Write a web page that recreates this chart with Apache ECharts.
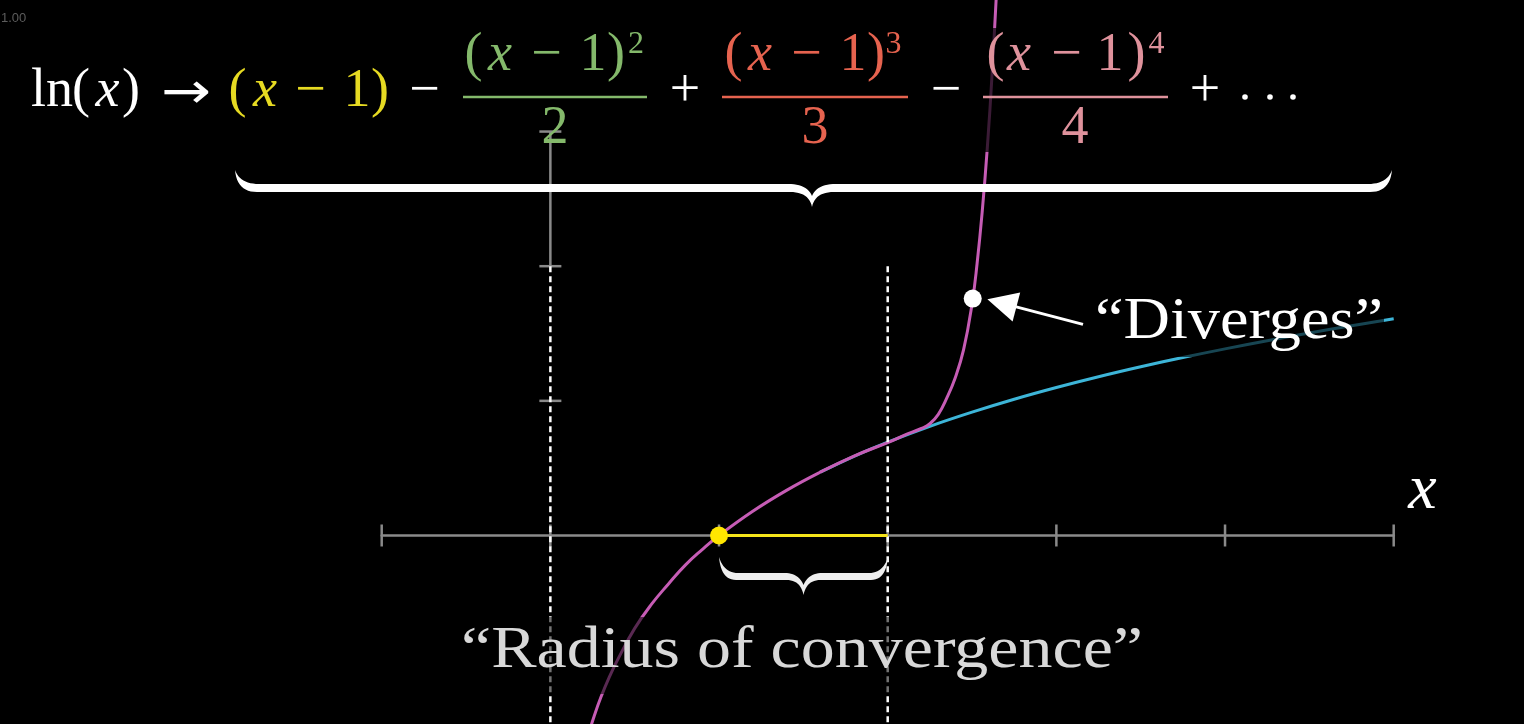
<!DOCTYPE html>
<html><head><meta charset="utf-8">
<script src="https://cdn.jsdelivr.net/npm/echarts@6/dist/echarts.min.js"></script>
<style>html,body{margin:0;padding:0;background:#000;}#c{width:1524px;height:724px;}</style>
</head><body><div id="c"></div>
<script>
// ---- data ----
const xTicks = [-1, 0, 1, 2, 3, 4, 5];
const yTicks = [1, 2, 3];
const yAxisSpan = [2, 3];
const lnX = [1.6, 1.8, 2.0, 2.25, 2.5, 2.75, 3.0, 3.25, 3.5, 3.75, 4.0, 4.25, 4.5, 4.75, 5.0];
const lnY = [0.47, 0.588, 0.693, 0.811, 0.916, 1.012, 1.099, 1.179, 1.253, 1.322, 1.386, 1.447, 1.504, 1.558, 1.609];
const polyX = [0.22, 0.26, 0.30, 0.35, 0.40, 0.50, 0.60, 0.70, 0.80, 0.90, 1.00, 1.20, 1.40, 1.60, 1.80, 2.00, 2.10, 2.20, 2.25, 2.30, 2.35, 2.40, 2.45, 2.50, 2.53, 2.56, 2.59, 2.62, 2.65];
const polyY = [-1.50, -1.34, -1.20, -1.05, -0.92, -0.69, -0.51, -0.36, -0.22, -0.105, 0, 0.18, 0.335, 0.47, 0.59, 0.69, 0.745, 0.795, 0.83, 0.90, 1.02, 1.17, 1.38, 1.72, 2.02, 2.40, 2.87, 3.45, 4.15];
const guideX = [0, 2];
const guideY = [2, -1.5];
const centerPt = [1, 0];
const radiusEnd = [2, 0];
const divergePt = [2.504, 1.76];
const arrowFrom = [3.158, 1.568];
const arrowTo = [2.677, 1.726];

const zip = (a, b) => a.map((v, i) => [v, b[i]]);
const GRAY = '#8a8a8a';

// ---- text helpers ----
const MID = 0.3375;
const SERIF = '"Liberation Serif"';
const mctx = document.createElement('canvas').getContext('2d');
function txt(s, cx, base, size, color, o) {
  o = o || {};
  const family = o.family || SERIF;
  const font = (o.italic ? 'italic ' : '') + size + 'px ' + family;
  let sx = 1, align = 'center';
  if (o.width) {
    mctx.font = font;
    sx = o.width / mctx.measureText(s).width;
    align = 'left';
  }
  return {
    type: 'text', z: 20, silent: true, x: cx, y: base - MID * size, scaleX: sx,
    style: { text: s, font: font, fill: color, align: align, textAlign: align,
             verticalAlign: 'middle', textVerticalAlign: 'middle' }
  };
}
function bar(x1, x2, y, color) {
  return { type: 'rect', z: 20, silent: true, shape: { x: x1, y: y - 1.3, width: x2 - x1, height: 2.6 }, style: { fill: color } };
}
function box(x, y, w, h, op) {
  return { type: 'rect', z: 15, silent: true, shape: { x: x, y: y, width: w, height: h }, style: { fill: 'rgba(0,0,0,' + op + ')' } };
}
// brace outline as polygon (quadratic segments sampled)
function bracePoints(x1, x2, y0, yb, t, yt, xc, c) {
  const yB = yb + t;
  const pts = [[x1, y0]];
  let cur = [x1, y0];
  const Q = (cx, cy, ex, ey) => {
    for (let i = 1; i <= 12; i++) {
      const s = i / 12, u = 1 - s;
      pts.push([u * u * cur[0] + 2 * u * s * cx + s * s * ex, u * u * cur[1] + 2 * u * s * cy + s * s * ey]);
    }
    cur = [ex, ey];
  };
  const L = (ex, ey) => { pts.push([ex, ey]); cur = [ex, ey]; };
  Q(x1 + 2, yB, x1 + c, yB); L(xc - c, yB); Q(xc - 3, yB, xc, yt);
  Q(xc + 3, yB, xc + c, yB); L(x2 - c, yB); Q(x2 - 2, yB, x2, y0);
  Q(x2 - 5, yb, x2 - c - 2, yb); L(xc + c + 2, yb); Q(xc + 5, yb, xc, yt - t - 3);
  Q(xc - 5, yb, xc - c - 2, yb); L(x1 + c + 2, yb); Q(x1 + 5, yb, x1, y0);
  return pts;
}

const W = '#ffffff', YEL = '#e6da22', GRN = '#84b96b', RED = '#e6634f', PNK = '#df929c';
const S = 54, B = 110, NB = 74, DB = 147, SUP = 32, SB = 55, AX = 97;
const g = [];
g.push({ type: 'text', z: 20, silent: true, x: 1, y: 18, style: { text: '1.00', font: '13px "Liberation Sans"', fill: '#5c5c5c', align: 'left', textAlign: 'left', verticalAlign: 'middle', textVerticalAlign: 'middle' } });
// ln(x) ->
g.push(txt('ln', 52, B, S, W), txt('(', 81, B, S, W), txt('x', 107.5, B, S, W, { italic: true }), txt(')', 131, B, S, W),
  txt('\u2192', 161, B + 2, 50, W, { width: 50, family: '"DejaVu Sans"' }));
function term(base, col, cx) {
  return [txt('(', cx[0], base, S, col), txt('x', cx[1], base, S, col, { italic: true }), txt('\u2212', cx[2], base, S, col), txt('1', cx[3], base, S, col), txt(')', cx[4], base, S, col)];
}
g.push(...term(B, YEL, [237.5, 265, 310.5, 357, 380]));
g.push(txt('\u2212', 424.5, B, S, W));
g.push(...term(NB, GRN, [473.5, 500, 546.5, 593, 616]), txt('2', 636, SB, SUP, GRN), bar(463, 647, AX, GRN), txt('2', 555, DB, S, GRN));
g.push(txt('+', 685, B, S, W));
g.push(...term(NB, RED, [733.5, 760, 806.5, 853, 876]), txt('3', 893.5, SB, SUP, RED), bar(722, 908, AX, RED), txt('3', 815, DB, S, RED));
g.push(txt('\u2212', 946, B, S, W));
g.push(box(982, 28, 190, 124, 0.7));
g.push(...term(NB, PNK, [995.5, 1019, 1066.5, 1110, 1136.5]), txt('4', 1156.5, SB, SUP, PNK), bar(983, 1168, AX, PNK), txt('4', 1075, DB, S, PNK));
g.push(txt('+', 1205, B, S, W));
[1245, 1270, 1293].forEach(cx => g.push({ type: 'circle', z: 20, silent: true, shape: { cx: cx, cy: AX, r: 2.8 }, style: { fill: W } }));
// braces
g.push({ type: 'polygon', z: 20, silent: true, shape: { points: bracePoints(235, 1392, 170, 184, 8, 207, 812, 22) }, style: { fill: W } });
g.push({ type: 'polygon', z: 20, silent: true, shape: { points: bracePoints(719, 888, 557, 573, 7, 595, 803.5, 17) }, style: { fill: '#eeeeee' } });
// labels
g.push(txt('x', 1422.5, 513, 64, W, { italic: true }));
g.push(box(1088, 294, 296, 63, 0.62));
g.push(txt('\u201CDiverges\u201D', 1095, 342, 60, W, { width: 288 }));
g.push(box(455, 617, 695, 77, 0.55));
g.push(txt('\u201CRadius of convergence\u201D', 461, 671, 60, '#d8d8d8', { width: 682 }));

const chart = echarts.init(document.getElementById('c'), null, { renderer: 'canvas' });
chart.setOption({
  backgroundColor: '#000',
  animation: false,
  grid: { left: 381.7, width: 1012, top: 0, height: 725.4 },
  xAxis: { type: 'value', min: -1, max: 5,
    axisLine: { show: true, onZero: true, lineStyle: { color: GRAY, width: 2.5 } },
    axisTick: { show: false }, axisLabel: { show: false }, splitLine: { show: false } },
  yAxis: { type: 'value', min: -1.4, max: 3.977,
    axisLine: { show: false }, axisTick: { show: false }, axisLabel: { show: false }, splitLine: { show: false } },
  series: [
    { type: 'line', z: 1, data: yAxisSpan.map(v => [0, v]), symbol: 'none', lineStyle: { color: GRAY, width: 2.5 }, silent: true },
    { type: 'scatter', z: 1, data: xTicks.map(v => [v, 0]), symbol: 'rect', symbolSize: [2.5, 22], itemStyle: { color: GRAY, opacity: 1 }, silent: true },
    { type: 'scatter', z: 1, data: yTicks.map(v => [0, v]), symbol: 'rect', symbolSize: [22, 2.5], itemStyle: { color: GRAY, opacity: 1 }, silent: true },
    { type: 'line', z: 2, data: zip(lnX, lnY), symbol: 'none', smooth: 0.4, lineStyle: { color: '#3db5d8', width: 3 }, silent: true },
    { type: 'line', z: 3, data: zip(polyX, polyY), symbol: 'none', smooth: 0.45, lineStyle: { color: '#c65cb5', width: 3 }, silent: true },
    ...guideX.map(gx => ({ type: 'line', z: 4, data: guideY.map(v => [gx, v]), symbol: 'none', lineStyle: { color: '#ffffff', width: 2.5, type: [6, 4] }, silent: true })),
    { type: 'line', z: 5, data: [centerPt, radiusEnd], symbol: 'none', lineStyle: { color: '#f5e41a', width: 3 }, silent: true },
    { type: 'scatter', z: 6, data: [centerPt], symbolSize: 18, itemStyle: { color: '#ffe600', opacity: 1 }, silent: true },
    { type: 'scatter', z: 6, data: [divergePt], symbolSize: 18, itemStyle: { color: '#ffffff', opacity: 1 }, silent: true,
      markLine: { silent: true, animation: false, symbol: ['none', 'triangle'], symbolSize: 30,
        label: { show: false }, lineStyle: { color: '#ffffff', width: 3, type: 'solid', opacity: 1 },
        data: [[{ coord: arrowFrom }, { coord: arrowTo }]] } }
  ],
  graphic: { elements: g }
});
</script></body></html>
